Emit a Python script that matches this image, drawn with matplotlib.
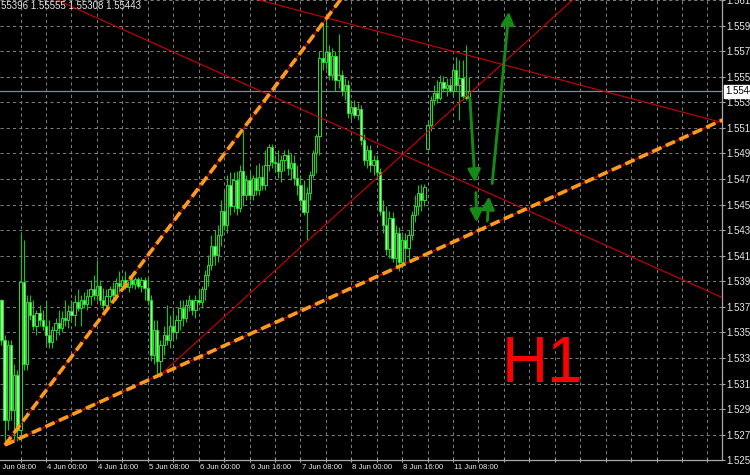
import numpy as np
import matplotlib
matplotlib.use("Agg")
import matplotlib.pyplot as plt
import matplotlib.transforms as mtransforms
from matplotlib.patches import FancyArrowPatch

plt.rcParams['font.family'] = ['Liberation Sans Narrow', 'Liberation Sans', 'DejaVu Sans']

# ---- hourly bars (bar number counted from 3 Jun 08:00) ----
bar_index = np.arange(1, 150)

opens = [
    1.5348, 1.5383, 1.5352, 1.5290, 1.5348, 1.5298, 1.5325, 1.5282, 1.5397, 1.5333,
    1.5381, 1.5371, 1.5363, 1.5373, 1.5367, 1.5363, 1.5356, 1.5350, 1.5360, 1.5365,
    1.5361, 1.5369, 1.5367, 1.5374, 1.5371, 1.5381, 1.5377, 1.5383, 1.5380, 1.5386,
    1.5391, 1.5387, 1.5394, 1.5383, 1.5379, 1.5386, 1.5391, 1.5387, 1.5396, 1.5394,
    1.5398, 1.5393, 1.5398, 1.5395, 1.5399, 1.5394, 1.5398, 1.5392, 1.5383, 1.5340,
    1.5360, 1.5336, 1.5348, 1.5356, 1.5352, 1.5363, 1.5358, 1.5367, 1.5377, 1.5369,
    1.5379, 1.5383, 1.5375, 1.5383, 1.5381, 1.5391, 1.5402, 1.5410, 1.5425, 1.5418,
    1.5433, 1.5452, 1.5441, 1.5472, 1.5456, 1.5476, 1.5454, 1.5483, 1.5464, 1.5476,
    1.5464, 1.5477, 1.5468, 1.5478, 1.5472, 1.5487, 1.5501, 1.5490, 1.5489, 1.5483,
    1.5491, 1.5495, 1.5485, 1.5489, 1.5477, 1.5472, 1.5460, 1.5451, 1.5466, 1.5480,
    1.5497, 1.5510, 1.5570, 1.5567, 1.5575, 1.5557, 1.5572, 1.5553, 1.5557, 1.5545,
    1.5549, 1.5528, 1.5532, 1.5526, 1.5531, 1.5507, 1.5491, 1.5499, 1.5487, 1.5491,
    1.5482, 1.5452, 1.5441, 1.5422, 1.5446, 1.5415, 1.5435, 1.5412, 1.5429, 1.5423,
    1.5433, 1.5449, 1.5456, 1.5466, 1.5460, 1.5500, 1.5518, 1.5538, 1.5543, 1.5539,
    1.5552, 1.5547, 1.5549, 1.5545, 1.5561, 1.5549, 1.5555, 1.5541, 1.55396,
]
highs = [
    1.5387, 1.5384, 1.5356, 1.5352, 1.5352, 1.5333, 1.5329, 1.5435, 1.5429, 1.5387,
    1.5387, 1.5383, 1.5375, 1.5379, 1.5375, 1.5383, 1.5367, 1.5363, 1.5369, 1.5375,
    1.5374, 1.5383, 1.5379, 1.5383, 1.5387, 1.5391, 1.5387, 1.5389, 1.5391, 1.5398,
    1.5402, 1.5414, 1.5398, 1.5392, 1.5391, 1.5394, 1.5397, 1.5400, 1.5405, 1.5401,
    1.5405, 1.5402, 1.5402, 1.5401, 1.5401, 1.5401, 1.5401, 1.5400, 1.5387, 1.5367,
    1.5367, 1.5352, 1.5363, 1.5379, 1.5371, 1.5375, 1.5371, 1.5383, 1.5383, 1.5384,
    1.5387, 1.5384, 1.5387, 1.5391, 1.5394, 1.5406, 1.5418, 1.5433, 1.5437, 1.5441,
    1.5460, 1.5468, 1.5480, 1.5482, 1.5482, 1.5483, 1.5487, 1.5514, 1.5480, 1.5483,
    1.5480, 1.5487, 1.5489, 1.5487, 1.5499, 1.5504, 1.5504, 1.5495, 1.5499, 1.5495,
    1.5499, 1.5500, 1.5497, 1.5495, 1.5487, 1.5480, 1.5476, 1.5470, 1.5483, 1.5499,
    1.5511, 1.5576, 1.5598, 1.5601, 1.5580, 1.5578, 1.5576, 1.5589, 1.5561, 1.5555,
    1.5553, 1.5538, 1.5538, 1.5535, 1.5534, 1.5511, 1.5503, 1.5503, 1.5495, 1.5495,
    1.5485, 1.5460, 1.5456, 1.5452, 1.5451, 1.5441, 1.5439, 1.5433, 1.5435, 1.5437,
    1.5452, 1.5464, 1.5472, 1.5473, 1.5473, 1.5522, 1.5541, 1.5549, 1.5553, 1.5557,
    1.5556, 1.5555, 1.5555, 1.5565, 1.5571, 1.5569, 1.5569, 1.5580, 1.55555,
]
lows = [
    1.5344, 1.5348, 1.5271, 1.5282, 1.5290, 1.5274, 1.5274, 1.5274, 1.5329, 1.5329,
    1.5367, 1.5360, 1.5356, 1.5363, 1.5360, 1.5348, 1.5346, 1.5346, 1.5352, 1.5356,
    1.5358, 1.5363, 1.5361, 1.5367, 1.5363, 1.5374, 1.5363, 1.5377, 1.5375, 1.5379,
    1.5383, 1.5383, 1.5379, 1.5375, 1.5374, 1.5381, 1.5384, 1.5383, 1.5389, 1.5391,
    1.5391, 1.5389, 1.5392, 1.5391, 1.5392, 1.5389, 1.5383, 1.5379, 1.5336, 1.5333,
    1.5325, 1.5323, 1.5340, 1.5348, 1.5346, 1.5352, 1.5353, 1.5360, 1.5363, 1.5366,
    1.5374, 1.5371, 1.5369, 1.5379, 1.5377, 1.5383, 1.5394, 1.5406, 1.5410, 1.5412,
    1.5425, 1.5437, 1.5435, 1.5449, 1.5451, 1.5449, 1.5451, 1.5456, 1.5460, 1.5460,
    1.5460, 1.5464, 1.5464, 1.5468, 1.5468, 1.5483, 1.5485, 1.5482, 1.5477, 1.5474,
    1.5483, 1.5480, 1.5476, 1.5472, 1.5464, 1.5456, 1.5449, 1.5429, 1.5460, 1.5477,
    1.5481, 1.5495, 1.5561, 1.5562, 1.5553, 1.5553, 1.5545, 1.5547, 1.5541, 1.5538,
    1.5524, 1.5522, 1.5524, 1.5522, 1.5503, 1.5487, 1.5485, 1.5482, 1.5480, 1.5477,
    1.5449, 1.5435, 1.5418, 1.5415, 1.5412, 1.5408, 1.5405, 1.5408, 1.5410, 1.5412,
    1.5429, 1.5443, 1.5449, 1.5452, 1.5456, 1.5499, 1.5514, 1.5534, 1.5535, 1.5538,
    1.5544, 1.5541, 1.5544, 1.5541, 1.5545, 1.5522, 1.5538, 1.5538, 1.55308,
]
closes = [
    1.5383, 1.5352, 1.5290, 1.5348, 1.5298, 1.5325, 1.5282, 1.5397, 1.5333, 1.5381,
    1.5371, 1.5363, 1.5373, 1.5367, 1.5363, 1.5356, 1.5350, 1.5360, 1.5365, 1.5361,
    1.5369, 1.5367, 1.5374, 1.5371, 1.5381, 1.5377, 1.5383, 1.5380, 1.5386, 1.5391,
    1.5387, 1.5394, 1.5383, 1.5379, 1.5386, 1.5391, 1.5387, 1.5396, 1.5394, 1.5398,
    1.5393, 1.5398, 1.5395, 1.5399, 1.5394, 1.5398, 1.5392, 1.5383, 1.5340, 1.5360,
    1.5336, 1.5348, 1.5356, 1.5352, 1.5363, 1.5358, 1.5367, 1.5377, 1.5369, 1.5379,
    1.5383, 1.5375, 1.5383, 1.5381, 1.5391, 1.5402, 1.5410, 1.5425, 1.5418, 1.5433,
    1.5452, 1.5441, 1.5472, 1.5456, 1.5476, 1.5454, 1.5483, 1.5464, 1.5476, 1.5464,
    1.5477, 1.5468, 1.5478, 1.5472, 1.5487, 1.5501, 1.5490, 1.5489, 1.5483, 1.5491,
    1.5495, 1.5485, 1.5489, 1.5477, 1.5472, 1.5460, 1.5451, 1.5466, 1.5480, 1.5497,
    1.5510, 1.5570, 1.5567, 1.5575, 1.5557, 1.5572, 1.5553, 1.5557, 1.5545, 1.5549,
    1.5528, 1.5532, 1.5526, 1.5531, 1.5507, 1.5491, 1.5499, 1.5487, 1.5491, 1.5482,
    1.5452, 1.5441, 1.5422, 1.5446, 1.5415, 1.5435, 1.5412, 1.5429, 1.5423, 1.5433,
    1.5449, 1.5456, 1.5466, 1.5460, 1.5470, 1.5518, 1.5538, 1.5543, 1.5539, 1.5552,
    1.5547, 1.5549, 1.5545, 1.5561, 1.5549, 1.5555, 1.5541, 1.55396, 1.55443,
]

# ---- axis labels ----
time_label_bars = [0, 16, 32, 48, 64, 80, 96, 112, 128, 144]
time_labels = ["3 Jun 08:00", "4 Jun 00:00", "4 Jun 16:00", "5 Jun 08:00", "6 Jun 00:00",
               "6 Jun 16:00", "7 Jun 08:00", "8 Jun 00:00", "8 Jun 16:00", "11 Jun 08:00"]
price_ticks = [1.56150, 1.55950, 1.55755, 1.55555, 1.55360, 1.55160, 1.54965, 1.54765,
               1.54565, 1.54370, 1.54170, 1.53975, 1.53775, 1.53580, 1.53380, 1.53180,
               1.52985, 1.52785, 1.52590]
price_labels = ["1.56150", "1.55950", "1.55755", "1.55555", "1.55360", "1.55160", "1.54965",
                "1.54765", "1.54565", "1.54370", "1.54170", "1.53975", "1.53775", "1.53580",
                "1.53380", "1.53180", "1.52985", "1.52785", "1.52590"]

# ---- drawn objects: (bar, price) anchor pairs ----
orange_ray_starts = [(3.1, 1.52706), (3.1, 1.52706)]
orange_ray_through = [(107.8, 1.56127), (228.6, 1.55221)]
red_line_a = [(92.7, 1.56088), (218.5, 1.55268)]
red_line_b = [(39.9, 1.55926), (218.5, 1.53960)]
red_ray_c = [(51.2, 1.53232), (155.6, 1.55570)]

arrow_tail_bar = [149.3, 151.2, 154.8, 156.3]
arrow_tail_price = [1.5539, 1.5466, 1.5444, 1.5473]
arrow_tip_bar = [150.9, 151.4, 155.3, 161.6]
arrow_tip_price = [1.5474, 1.5443, 1.5463, 1.5606]

# ---- colours ----
BG = "black"
GRID = "#7a7a7a"
WICK = "#19c419"
EDGE = "#24e024"
BEAR_FILL = "#95ff95"
RED = "#d40000"
ORANGE = "#ff9a1a"
ARROW_GREEN = "#168a16"
AXIS = "#a8a8a8"
TXT = "#e8e8e8"

fig = plt.figure(figsize=(7.5, 4.75), dpi=100)
fig.patch.set_facecolor(BG)
ax = fig.add_axes([0, 15 / 475, 722 / 750, 460 / 475])
ax.set_facecolor(BG)
ax.set_xlim(1.54, 228.58)
ax.set_ylim(1.52590, 1.56151)

# grid and axes
ax.set_xticks(np.arange(8, 229, 8))
ax.set_xticklabels([])
ax.yaxis.tick_right()
ax.set_yticks(price_ticks)
ax.set_yticklabels(price_labels)
ax.tick_params(axis='y', which='both', colors=AXIS, labelcolor=TXT, labelsize=7,
               length=2.2, width=0.8, pad=1.0, direction='out')
ax.tick_params(axis='x', which='both', colors=AXIS, length=3, width=0.8, direction='inout')
ax.grid(True, color=GRID, linestyle=(0, (3, 3)), linewidth=0.75, zorder=0)
ax.set_axisbelow(True)
for side in ("left", "top"):
    ax.spines[side].set_visible(False)
for side in ("right", "bottom"):
    ax.spines[side].set_color(AXIS)
    ax.spines[side].set_linewidth(0.9)

# time labels start at their tick, MetaTrader style
xlab_tr = mtransforms.blended_transform_factory(ax.transData, ax.transAxes)
for b, lab in zip(time_label_bars, time_labels):
    ax.text(b + 0.35, -0.0165, lab, transform=xlab_tr, ha='left', va='center',
            fontsize=5.6, color=TXT, clip_on=False)

# bid line
o = np.array(opens); h = np.array(highs); l = np.array(lows); c = np.array(closes)
ax.axhline(c[-1], color="#7d8b99", lw=0.9, zorder=1)

# candles
up = c >= o
ax.vlines(bar_index, l, h, color=WICK, lw=0.8, zorder=3)
ax.bar(bar_index[up], (c - o)[up], bottom=o[up], width=0.72, color=BG,
       edgecolor=EDGE, linewidth=0.7, zorder=4)
ax.bar(bar_index[~up], (c - o)[~up], bottom=o[~up], width=0.72, color=BEAR_FILL,
       edgecolor=EDGE, linewidth=0.7, zorder=4)


def ray(p0, p1, far=6.0):
    return ([p0[0], p0[0] + (p1[0] - p0[0]) * far],
            [p0[1], p0[1] + (p1[1] - p0[1]) * far])


# thin red trend lines
ax.axline(red_line_a[0], red_line_a[1], color=RED, lw=0.8, zorder=5)
ax.axline(red_line_b[0], red_line_b[1], color=RED, lw=0.8, zorder=5)
xs, ys = ray(red_ray_c[0], red_ray_c[1])
ax.plot(xs, ys, color=RED, lw=0.8, zorder=5)

# dashed orange channel lines over a thin red line
for p0, p1 in zip(orange_ray_starts, orange_ray_through):
    xs, ys = ray(p0, p1)
    ax.plot(xs, ys, color=RED, lw=0.8, zorder=5)
    ax.plot(xs, ys, color=ORANGE, lw=2.6, linestyle=(0, (2.8, 1.3)),
            dash_capstyle='butt', zorder=6)

# green arrows
for x0, y0, x1, y1 in zip(arrow_tail_bar, arrow_tail_price, arrow_tip_bar, arrow_tip_price):
    ax.add_patch(FancyArrowPatch((x0, y0), (x1, y1),
                                 arrowstyle='-|>,head_length=0.75,head_width=0.38',
                                 mutation_scale=10, color=ARROW_GREEN, lw=2.1,
                                 shrinkA=0, shrinkB=0, zorder=7))

# current price tag on the price scale
ylab_tr = mtransforms.blended_transform_factory(ax.transAxes, ax.transData)
ax.text(1.0045, c[-1], f"{c[-1]:.5f}", transform=ylab_tr, ha='left', va='center',
        fontsize=7, color='black', clip_on=False, zorder=10,
        bbox=dict(boxstyle='square,pad=0.12', fc='white', ec='white'))

# last-bar OHLC readout, top left
ohlc_text = " ".join(f"{v:.5f}" for v in (o[-1], h[-1], l[-1], c[-1]))
ax.text(-0.0092, 0.987, ohlc_text, transform=ax.transAxes, ha='left', va='center',
        fontsize=7, color=TXT, clip_on=False, zorder=10)

# timeframe caption
ax.text(502 / 722, (460 - 382) / 460, "H1", transform=ax.transAxes, ha='left',
        va='baseline', fontsize=46, color='#ff0000', zorder=8)

fig.savefig("out.png", dpi=100, facecolor=BG)
